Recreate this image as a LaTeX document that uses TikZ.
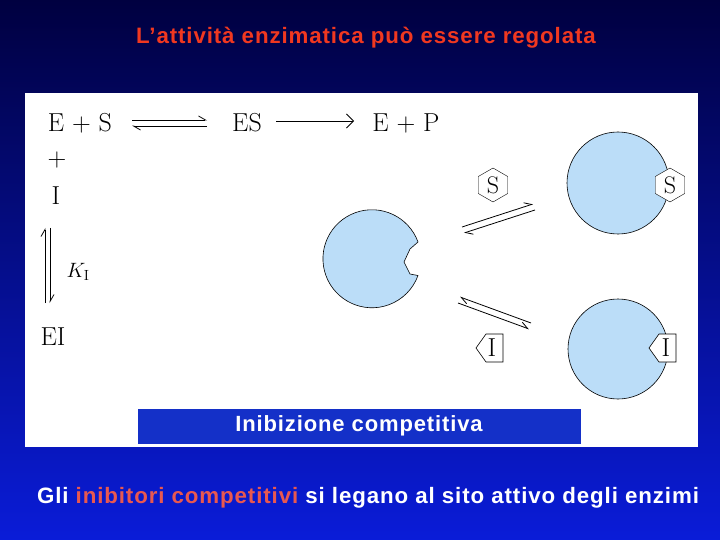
\documentclass[tikz,border=0pt]{standalone}
\usepackage{fontspec}
\newfontfamily\arial[LetterSpace=4]{Liberation Sans}
\usetikzlibrary{arrows.meta,shapes.geometric}
\definecolor{navy}{HTML}{000040}
\definecolor{bblue}{HTML}{0A1CD8}
\definecolor{ttl}{HTML}{F03820}
\definecolor{ttl2}{HTML}{E85850}
\definecolor{enz}{HTML}{BBDDF8}
\definecolor{lbl}{HTML}{1430C8}
\begin{document}
\begin{tikzpicture}[x=1pt,y=-1pt,
  chem/.style={font=\fontsize{26}{28}\selectfont, inner sep=0pt},
  enzy/.style={fill=enz, draw=black, line width=0.6pt},
  hexa/.style={regular polygon, regular polygon sides=6, shape border rotate=30, draw, fill=white, inner sep=0pt, minimum size=34pt, font=\fontsize{24}{26}\selectfont},
  fw/.style={line width=0.8pt, -{Straight Barb[left,length=7pt,width=8pt]}},
]
\useasboundingbox (0,0) rectangle (720,540);
\shade[top color=navy, bottom color=bblue] (0,0) rectangle (720,540);
\fill[white] (25,93) rectangle (698,447);
\node[text=ttl, font=\arial\bfseries\fontsize{22.3}{26}\selectfont] (title) at (366,38) {L’attività enzimatica può essere regolata};
% equation
\node[chem] (es1) at (80,123) {E + S};
\node[chem] (es) at (247,123) {ES};
\node[chem] (ep) at (406,123) {E + P};
\coordinate (a1) at (132,120); \coordinate (a2) at (207,120);
\coordinate (a3) at (132,126); \coordinate (a4) at (207,126);
\draw[fw] (a1) -- (a2);
\draw[fw] (a4) -- (a3);
\draw[line width=0.8pt,-{Straight Barb[length=7pt]}] (es.east) ++(14,-2) coordinate (b1) -- ++(78,0) coordinate (b2);
\node[chem] (plus) at (57,160) {+};
\node[chem] (i) at (56,196) {I};
\coordinate (v1) at (45,303); \coordinate (v2) at (45,228);
\coordinate (v3) at (50,228); \coordinate (v4) at (50,303);
\draw[fw] (v1) -- (v2);
\draw[fw] (v3) -- (v4);
\node[font=\fontsize{21}{22}\selectfont, inner sep=0pt] (ki) at (78,272) {$K_{\mathrm{I}}$};
\node[chem] (ei) at (53,337) {EI};
% pacman enzyme
\draw[enzy] (418,242) arc[start angle=20,end angle=340,radius=49pt] -- (410,274) -- (404,262) -- (410,249) -- cycle;
% substrate branch
\node[hexa] (s1) at (493,185) {S};
\draw[fw] (462,227) -- (533,204);
\draw[fw] (535,210) -- (464,233);
\draw[enzy] (618,183) circle[radius=51pt];
\node[hexa] (s2) at (670,185) {S};
% inhibitor branch
\draw[fw] (531,323) -- (460,297);
\draw[fw] (458,303) -- (529,329);
\draw[fill=white, line width=0.6pt] (476,348) -- (486,334) -- (503,334) -- (503,362) -- (486,362) -- cycle;
\node[chem] (i1) at (492,348) {I};
\draw[enzy] (618,349) circle[radius=50pt];
\draw[fill=white, line width=0.6pt] (649,348) -- (659,334) -- (676,334) -- (676,362) -- (659,362) -- cycle;
\node[chem] (i2) at (666,348) {I};
% label
\node[draw=white, fill=lbl, line width=1pt, minimum width=444pt, minimum height=36pt, text=white, font=\arial\bfseries\fontsize{22}{24}\selectfont] (lab) at (359,426) {Inibizione competitiva};
\node[text=white, font=\arial\bfseries\fontsize{22.3}{26}\selectfont] (bot) at (368,498) {Gli \textcolor{ttl2}{inibitori competitivi} si legano al sito attivo degli enzimi};
\end{tikzpicture}
\end{document}
